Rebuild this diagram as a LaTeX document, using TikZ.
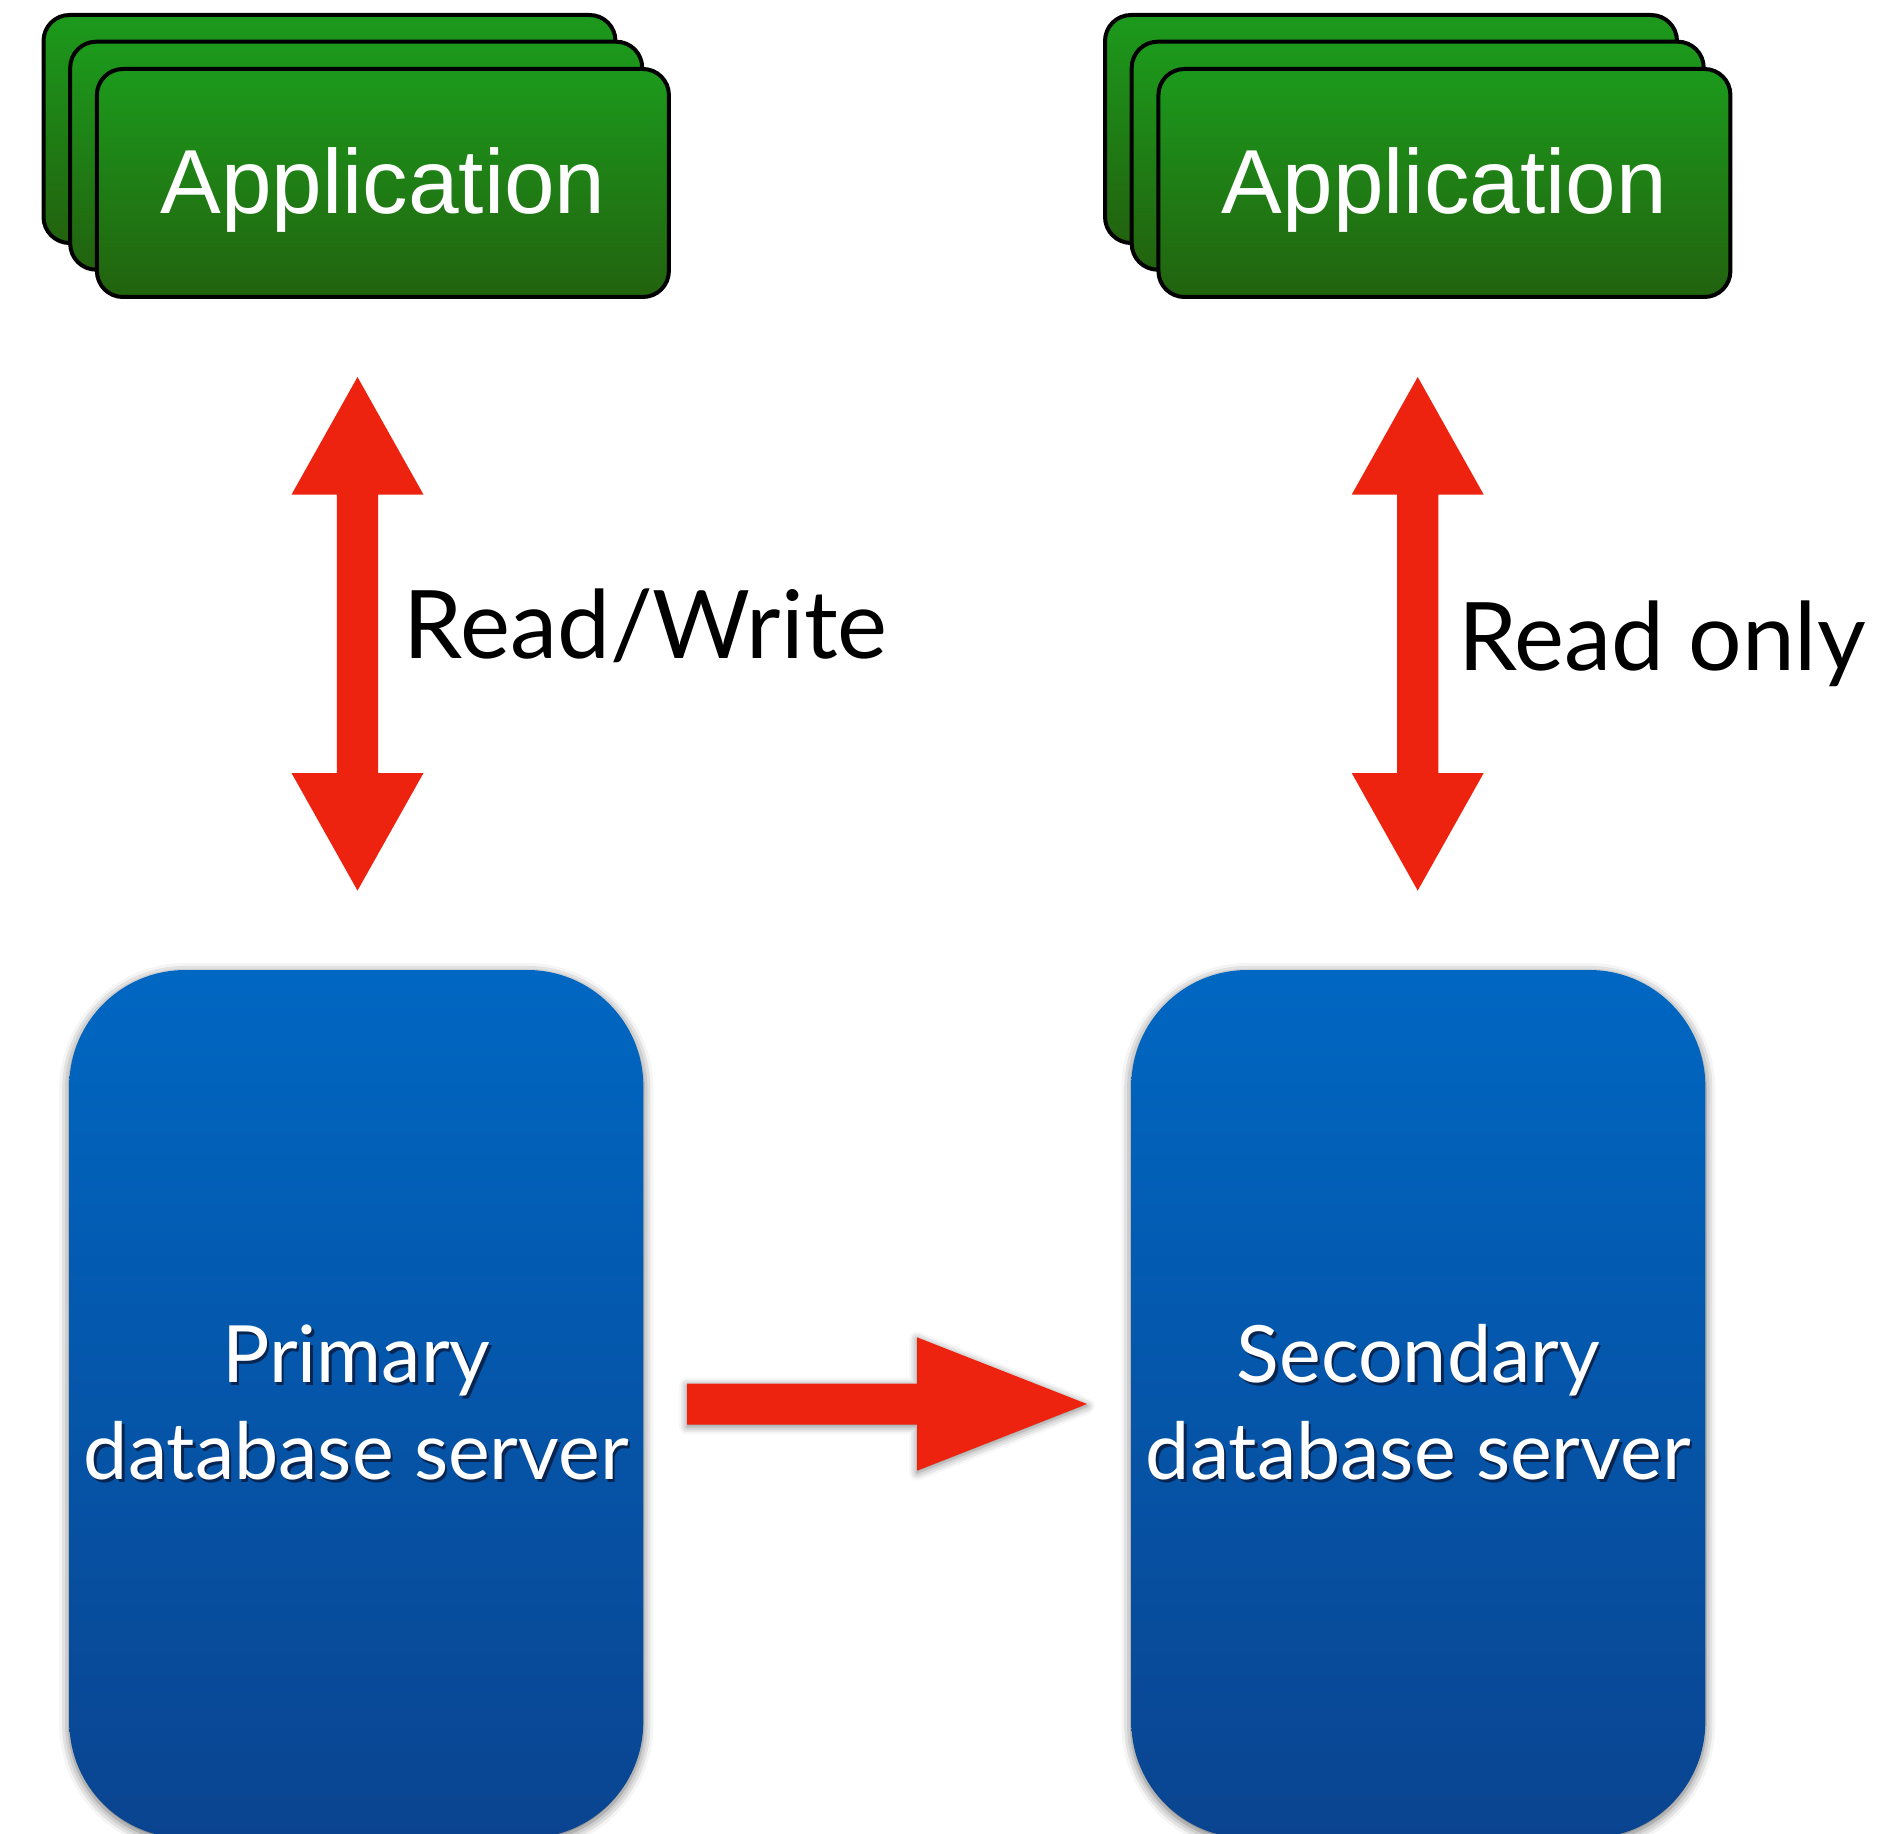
\documentclass[tikz,border=0pt]{standalone}
\usepackage{fontspec}
\setmainfont{Lato}
\newfontfamily\appfont{Liberation Sans}
\usetikzlibrary{calc,shadows.blur}

\definecolor{appTop}{RGB}{28,154,28}
\definecolor{appBot}{RGB}{34,98,14}
\definecolor{dbTop}{RGB}{0,103,194}
\definecolor{dbBot}{RGB}{10,68,144}
\definecolor{arrowRed}{RGB}{237,35,15}
\definecolor{textShade}{RGB}{8,36,80}

% white label with a small dark drop shadow behind it
\newcommand\shadedlabel[1]{\rlap{\hspace{1.2pt}\raisebox{-1.6pt}{\color{textShade}#1}}#1}
% card caption, set a little below the geometric centre
\newcommand\cardlabel[1]{\raisebox{-3.5pt}[\height][\depth]{#1}}

% double-headed block arrow between two coordinates (top, bottom)
\newcommand\vblockarrow[2]{%
  \fill[arrowRed] (#1) -- ++(66,117.6) -- ++(-45.4,0)
    -- ($(#2)+(20.6,-117.6)$) -- ++(45.4,0) -- (#2)
    -- ++(-66,-117.6) -- ++(45.4,0)
    -- ($(#1)+(-20.6,117.6)$) -- ++(-45.4,0) -- cycle;}

\tikzset{
  appcard/.style={draw=black, line width=2pt, rounded corners=13pt,
    top color=appTop, bottom color=appBot,
    minimum width=286pt, minimum height=114pt, inner sep=0pt,
    text=white, font=\appfont\fontsize{45.5}{54}\selectfont},
  dbbox/.style={rounded corners=58pt, top color=dbTop, bottom color=dbBot,
    minimum width=287pt, minimum height=434pt, inner sep=0pt,
    blur shadow={shadow xshift=0pt, shadow yshift=-1.5pt,
      shadow blur radius=5pt, shadow opacity=60},
    text=white, align=center,
    font=\fontsize{39.5}{48.5}\selectfont},
  rwlabel/.style={anchor=base west, inner sep=0pt,
    font=\fontsize{47.3}{57}\selectfont},
}

\begin{document}
\begin{tikzpicture}[x=0.5pt,y=-0.5pt]
\useasboundingbox (0,0) rectangle (1900,1834);

% application stacks
\node[appcard] (appLback) at (329.5,129) {};
\node[appcard] (appLmid) at (356.2,155.7) {};
\node[appcard] (appL) at (382.9,183) {\cardlabel{Application}};

\node[appcard] (appRback) at (1391,129) {};
\node[appcard] (appRmid) at (1417.7,155.7) {};
\node[appcard] (appR) at (1444.4,183) {\cardlabel{Application}};

% database servers
\node[dbbox] (dbP) at (356.3,1404) {\shadedlabel{Primary}\\\shadedlabel{database server}};
\node[dbbox] (dbS) at (1418.3,1404) {\shadedlabel{Secondary}\\\shadedlabel{database server}};

% access arrows
\coordinate (rwTop) at (357.5,377);
\coordinate (rwBot) at (357.5,890.6);
\coordinate (roTop) at (1417.7,377);
\coordinate (roBot) at (1417.7,890.6);
\vblockarrow{rwTop}{rwBot}
\vblockarrow{roTop}{roBot}

\node[rwlabel] (rwText) at (403.5,658) {Read/Write};
\node[rwlabel] (roText) at (1457.7,670) {Read only};

% replication arrow
\coordinate (repFrom) at (687,1404);
\coordinate (repTo) at (1087,1404);
\fill[arrowRed, blur shadow={shadow xshift=0pt, shadow yshift=-1pt,
      shadow blur radius=4pt, shadow opacity=50}]
  ($(repFrom)+(0,-20.5)$) -- ($(repTo)+(-170,-20.5)$) -- ++(0,-46.2)
  -- (repTo) -- ($(repTo)+(-170,66.7)$) -- ++(0,-46.2)
  -- ($(repFrom)+(0,20.5)$) -- cycle;
\end{tikzpicture}
\end{document}
